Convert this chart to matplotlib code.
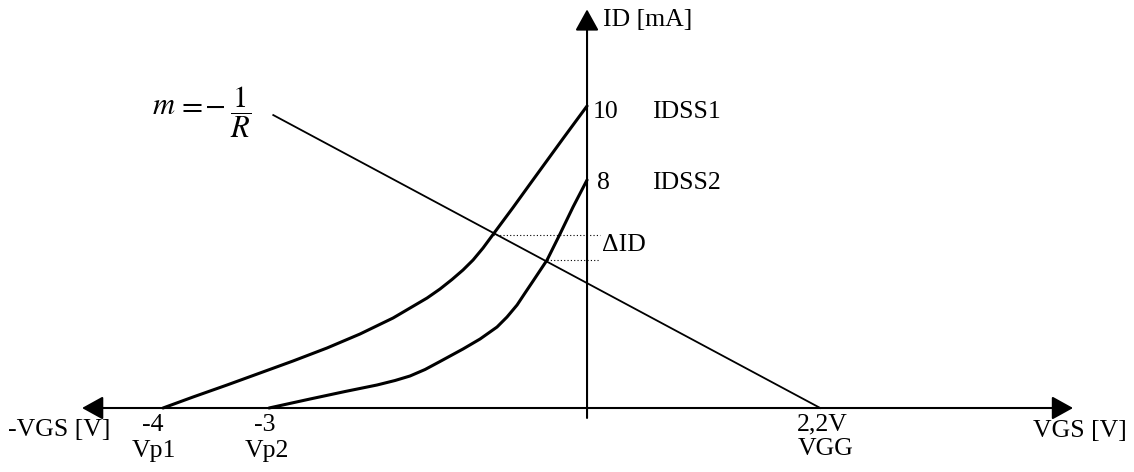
import numpy as np
import matplotlib.pyplot as plt
from matplotlib.patches import FancyArrowPatch

plt.rcParams['font.family'] = ['Liberation Serif', 'DejaVu Serif']
plt.rcParams['mathtext.fontset'] = 'stix'

# transfer curve 1 (Vp1 = -4 V, IDSS1 = 10 mA)
vgs1 = [-4.0, -3.717, -3.396, -3.085, -2.774, -2.453, -2.142, -1.830, -1.509, -1.387,
        -1.274, -1.170, -1.075, -0.981, -0.887, -0.698, -0.538, -0.377, -0.226, -0.094, 0.0]
id1 = [0.0, 0.364, 0.762, 1.159, 1.556, 1.987, 2.450, 2.980, 3.642, 3.940,
       4.255, 4.570, 4.901, 5.298, 5.745, 6.639, 7.417, 8.195, 8.924, 9.553, 10.0]

# transfer curve 2 (Vp2 = -3 V, IDSS2 = 8 mA)
vgs2 = [-3.0, -2.613, -2.283, -1.981, -1.811, -1.670, -1.528, -1.387, -1.170, -1.009,
        -0.849, -0.755, -0.660, -0.585, -0.509, -0.377, -0.255, -0.132, 0.0]
id2 = [0.0, 0.298, 0.546, 0.762, 0.911, 1.060, 1.275, 1.540, 1.954, 2.285,
       2.682, 3.013, 3.411, 3.808, 4.205, 4.901, 5.762, 6.656, 7.55]

# load line, m = -1/R, ends at VGG = 2.2 V
load_vgs = [-2.96, 2.2]
load_id = [9.70, 0.0]

# operating points (dotted lines for delta ID)
q_vgs = [-0.887, -0.377]
q_id = [5.745, 4.901]

fig = plt.figure(figsize=(11.34, 4.72), dpi=100)
ax = fig.add_axes([0, 0, 1, 1])
ax.set_xlim(-5.538, 5.160)
ax.set_ylim(-2.119, 13.51)
ax.axis('off')

# axes with arrows
ax.add_patch(FancyArrowPatch((-4.764, 0), (4.585, 0), arrowstyle='<|-|>,head_length=0.65,head_width=0.36',
                             mutation_scale=20, color='black', lw=1.5, shrinkA=0, shrinkB=0))
ax.add_patch(FancyArrowPatch((0, -0.33), (0, 13.2), arrowstyle='-|>,head_length=0.65,head_width=0.36',
                             mutation_scale=20, color='black', lw=1.5, shrinkA=0, shrinkB=0))

# curves
ax.plot(vgs1, id1, color='black', lw=2.2, solid_joinstyle='round', solid_capstyle='round')
ax.plot(vgs2, id2, color='black', lw=2.2, solid_joinstyle='round', solid_capstyle='round')
ax.plot(load_vgs, load_id, color='black', lw=1.3)

# dotted lines
for xv, yv in zip(q_vgs, q_id):
    ax.plot([xv, 0.12], [yv, yv], color='black', lw=0.8, linestyle=(0, (1, 2)))

fs = 18.5
ax.text(-5.46, -0.73, '-VGS [V]', fontsize=fs, ha='left', va='center')
ax.text(-4.10, -0.56, '-4', fontsize=fs, ha='center', va='center')
ax.text(-4.09, -1.42, 'Vp1', fontsize=fs, ha='center', va='center')
ax.text(-3.04, -0.56, '-3', fontsize=fs, ha='center', va='center')
ax.text(-3.02, -1.42, 'Vp2', fontsize=fs, ha='center', va='center')
ax.text(2.22, -0.56, '2,2V', fontsize=fs, ha='center', va='center')
ax.text(2.25, -1.36, 'VGG', fontsize=fs, ha='center', va='center')
ax.text(5.09, -0.76, 'VGS [V]', fontsize=fs, ha='right', va='center')
ax.text(0.15, 12.85, 'ID [mA]', fontsize=fs, ha='left', va='center')
ax.text(0.057, 9.80, '10', fontsize=fs, ha='left', va='center')
ax.text(0.61, 9.80, 'IDSS1', fontsize=fs, ha='left', va='center')
ax.text(0.094, 7.45, '8', fontsize=fs, ha='left', va='center')
ax.text(0.61, 7.45, 'IDSS2', fontsize=fs, ha='left', va='center')
ax.text(0.14, 5.40, '\u0394ID', fontsize=fs, ha='left', va='center')

# slope formula m = -1/R
fm = 22
ax.text(-4.10, 9.97, r'$m$', fontsize=fm, ha='left', va='center')
ax.text(-3.75, 9.97, r'$=$', fontsize=fm, ha='center', va='center')
ax.text(-3.51, 9.97, r'$-$', fontsize=fm, ha='center', va='center')
ax.text(-3.27, 9.80, r'$\dfrac{1}{R}$', fontsize=fm, ha='center', va='center')

fig.savefig('out.png', dpi=100)
